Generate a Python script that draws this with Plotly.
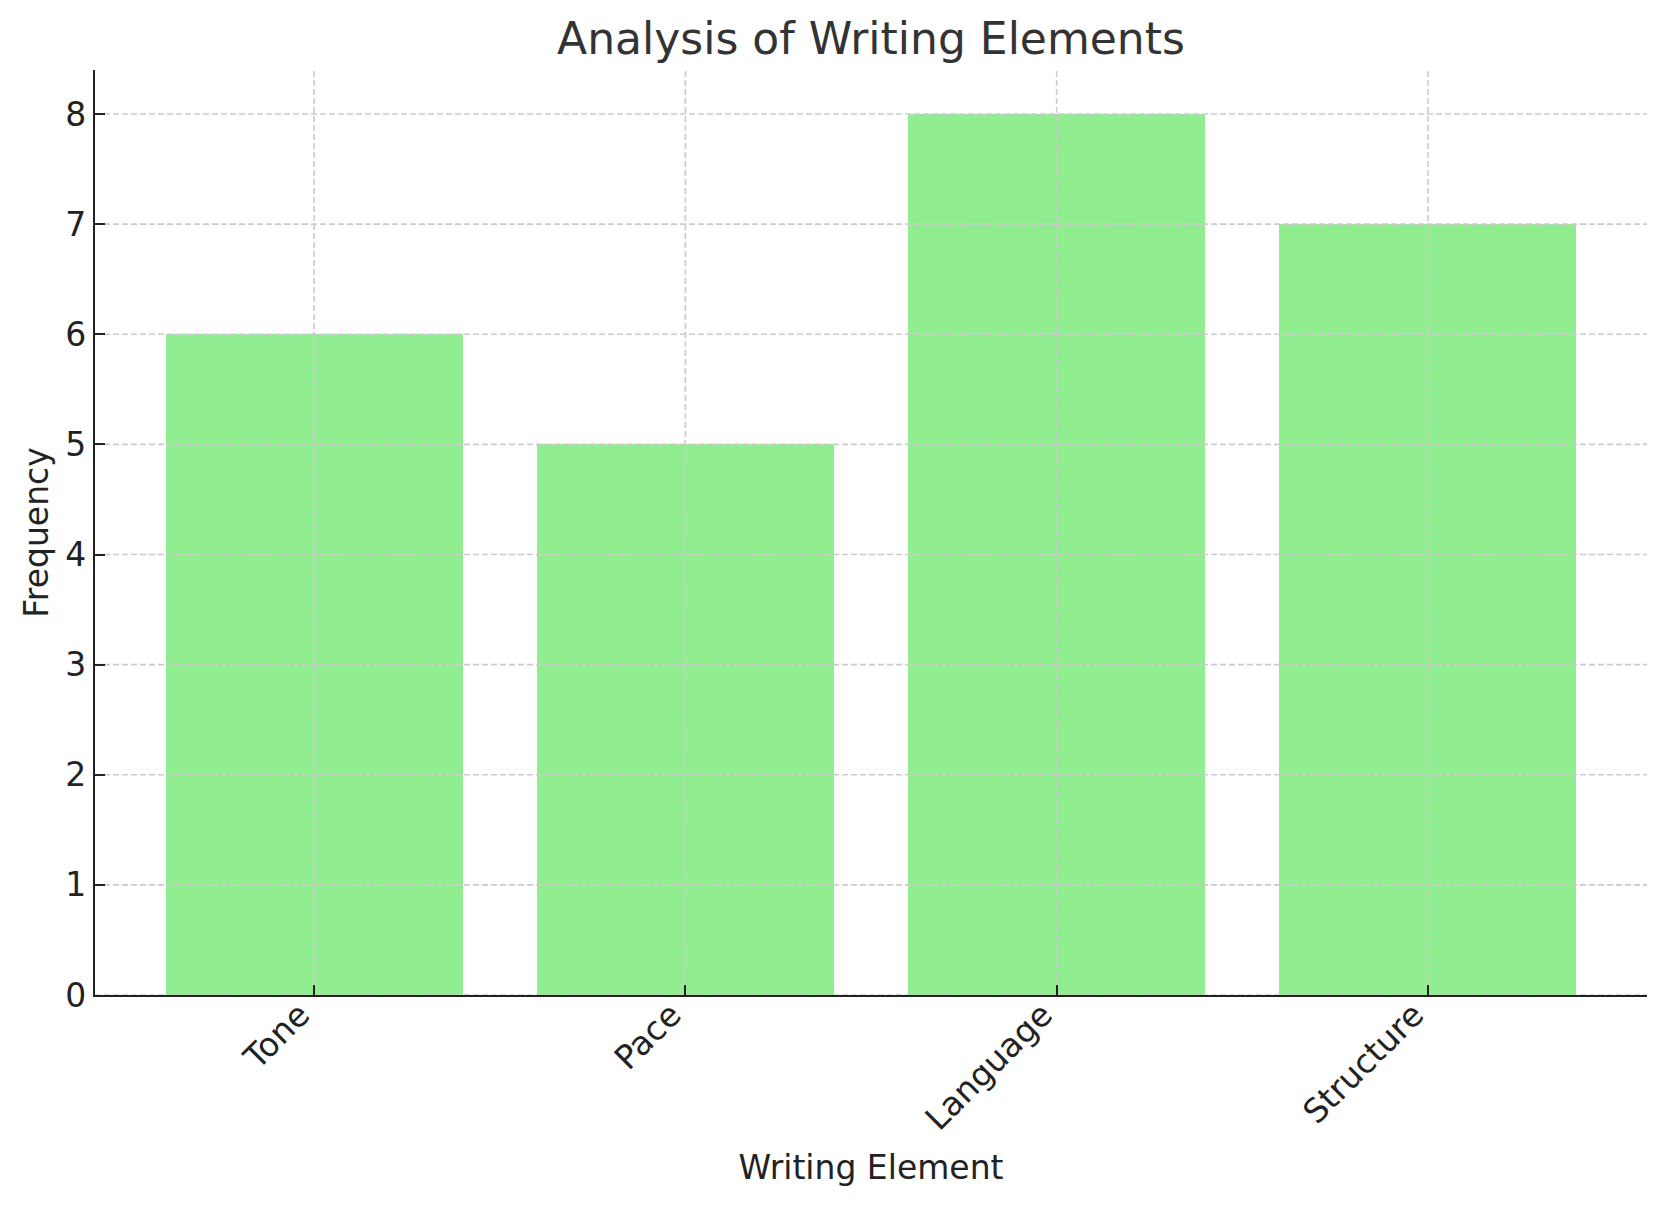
import plotly.graph_objects as go

elements = ["Tone", "Pace", "Language", "Structure"]
frequency = [6, 5, 8, 7]
y_ticks = [0, 1, 2, 3, 4, 5, 6, 7, 8]

x_range = [-0.59, len(elements) - 1 + 0.59]
y_range = [0, 8.4]

font_family = "DejaVu Sans"
grid_color = "#cbcbcb"
axis_color = "#222222"

fig = go.Figure(go.Bar(x=list(range(len(elements))), y=frequency, width=0.8,
                       marker=dict(color="#90EE90", line=dict(width=0)), hoverinfo="x+y"))

# grid lines as traces so they sit over the bars but under the axis ticks
gx, gy = [], []
for v in y_ticks:
    gx += [x_range[0], x_range[1], None]
    gy += [v, v, None]
for i in range(len(elements)):
    gx += [i, i, None]
    gy += [y_range[0], y_range[1], None]
fig.add_trace(go.Scatter(x=gx, y=gy, mode="lines", hoverinfo="skip",
                         line=dict(color=grid_color, width=1.6, dash="6px,3px")))

fig.update_layout(
    width=1657, height=1200,
    margin=dict(l=87, r=18, t=62, b=213),
    paper_bgcolor="white", plot_bgcolor="white",
    font=dict(family=font_family, size=33, color=axis_color),
    title=dict(text="Analysis of Writing Elements", x=0.5, xref="paper", y=1 - 31 / 1200,
               yref="container", yanchor="middle", font=dict(size=44, color="#333333")),
    showlegend=False,
    bargap=0,
)
fig.update_xaxes(range=x_range, tickmode="array", tickvals=list(range(len(elements))),
                 ticktext=elements, tickangle=-45, ticks="inside", ticklen=10, tickwidth=2,
                 tickcolor=axis_color, showline=True, linecolor=axis_color, linewidth=2.4,
                 showgrid=False, zeroline=False, layer="above traces",
                 ticklabelstandoff=-15, ticklabelshift=-14,
                 title=dict(text="Writing Element", standoff=19, font=dict(size=33)))
fig.update_yaxes(range=y_range, tickmode="array", tickvals=y_ticks, ticks="inside",
                 ticklen=10, tickwidth=2, tickcolor=axis_color, showline=True,
                 linecolor=axis_color, linewidth=2.4, showgrid=False, zeroline=False,
                 layer="above traces",
                 title=dict(text="Frequency", standoff=7, font=dict(size=33)))

fig.write_html("out.html")
